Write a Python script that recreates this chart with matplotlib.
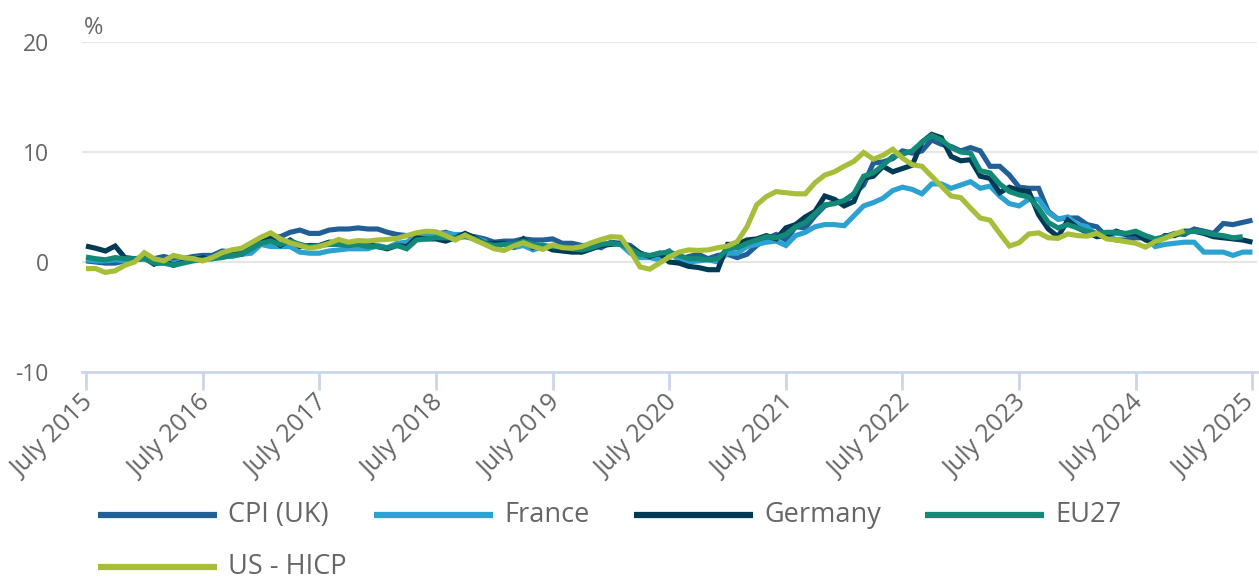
import matplotlib
matplotlib.use("Agg")
import matplotlib.pyplot as plt
from matplotlib.lines import Line2D
import matplotlib.transforms as mtransforms
import numpy as np

plt.rcParams['font.family'] = ['Open Sans', 'DejaVu Sans']

# ---------------- data (annual inflation rate, %, monthly Jul 2015 - Jul 2025) ----------------
tick_labels = ["July 2015", "July 2016", "July 2017", "July 2018", "July 2019", "July 2020",
               "July 2021", "July 2022", "July 2023", "July 2024", "July 2025"]

series_names = ["CPI (UK)", "France", "Germany", "EU27", "US - HICP"]

cpi_uk = [0.1, 0.0, -0.1, -0.1, 0.1, 0.2,
          0.3, 0.3, 0.5, 0.3, 0.3, 0.5, 0.6, 0.6, 1.0, 0.9, 1.2, 1.6,
          1.8, 2.3, 2.3, 2.7, 2.9, 2.6, 2.6, 2.9, 3.0, 3.0, 3.1, 3.0,
          3.0, 2.7, 2.5, 2.4, 2.4, 2.4, 2.5, 2.7, 2.4, 2.4, 2.3, 2.1,
          1.8, 1.9, 1.9, 2.1, 2.0, 2.0, 2.1, 1.7, 1.7, 1.5, 1.5, 1.3,
          1.8, 1.7, 1.5, 0.8, 0.5, 0.6, 1.0, 0.2, 0.5, 0.7, 0.3, 0.6,
          0.7, 0.4, 0.7, 1.5, 2.1, 2.5, 2.0, 3.2, 3.1, 4.2, 5.1, 5.4,
          5.5, 6.2, 7.0, 9.0, 9.1, 9.4, 10.1, 9.9, 10.1, 11.1, 10.7, 10.5,
          10.1, 10.4, 10.1, 8.7, 8.7, 7.9, 6.8, 6.7, 6.7, 4.6, 3.9, 4.0,
          4.0, 3.4, 3.2, 2.3, 2.0, 2.0, 2.2, 2.2, 1.7, 2.3, 2.6, 2.5,
          3.0, 2.8, 2.6, 3.5, 3.4, 3.6, 3.8]

france = [0.2, 0.1, 0.1, 0.2, 0.1, 0.3,
          0.3, -0.1, -0.1, -0.1, 0.1, 0.3, 0.4, 0.4, 0.5, 0.5, 0.7, 0.8,
          1.6, 1.4, 1.4, 1.4, 0.9, 0.8, 0.8, 1.0, 1.1, 1.2, 1.2, 1.2,
          1.5, 1.3, 1.7, 1.8, 2.3, 2.3, 2.6, 2.6, 2.5, 2.5, 2.2, 1.9,
          1.4, 1.6, 1.3, 1.5, 1.1, 1.4, 1.3, 1.3, 1.1, 0.9, 1.2, 1.6,
          1.7, 1.6, 0.8, 0.4, 0.4, 0.2, 0.9, 0.2, 0.0, 0.1, 0.2, 0.0,
          0.8, 0.8, 1.4, 1.6, 1.8, 1.9, 1.5, 2.4, 2.7, 3.2, 3.4, 3.4,
          3.3, 4.2, 5.1, 5.4, 5.8, 6.5, 6.8, 6.6, 6.2, 7.1, 7.1, 6.7,
          7.0, 7.3, 6.7, 6.9, 6.0, 5.3, 5.1, 5.7, 5.7, 4.5, 3.9, 4.1,
          3.4, 3.2, 2.4, 2.4, 2.6, 2.5, 2.7, 2.2, 1.4, 1.6, 1.7, 1.8,
          1.8, 0.9, 0.9, 0.9, 0.6, 0.9, 0.9]

germany = [1.45, 1.25, 1.0, 1.45, 0.4, 0.3,
           0.4, -0.2, 0.1, -0.3, 0.0, 0.2, 0.4, 0.3, 0.5, 0.7, 0.7, 1.7,
           1.9, 2.2, 1.5, 2.0, 1.4, 1.5, 1.5, 1.8, 1.8, 1.5, 1.8, 1.6,
           1.4, 1.2, 1.5, 1.4, 2.2, 2.1, 2.1, 1.9, 2.2, 2.6, 2.2, 1.7,
           1.7, 1.7, 1.4, 2.1, 1.3, 1.5, 1.1, 1.0, 0.9, 0.9, 1.2, 1.5,
           1.6, 1.7, 1.3, 0.8, 0.5, 0.8, 0.0, -0.1, -0.4, -0.5, -0.7, -0.7,
           1.6, 1.6, 2.0, 2.1, 2.4, 2.1, 3.1, 3.4, 4.1, 4.6, 6.0, 5.7,
           5.1, 5.5, 7.6, 7.8, 8.7, 8.2, 8.5, 8.8, 10.9, 11.6, 11.3, 9.6,
           9.2, 9.3, 7.8, 7.6, 6.3, 6.8, 6.5, 6.4, 4.3, 3.0, 2.3, 3.8,
           3.1, 2.7, 2.3, 2.4, 2.8, 2.5, 2.6, 2.0, 1.8, 2.4, 2.4, 2.8,
           2.8, 2.6, 2.3, 2.2, 2.1, 2.0, 1.8]

eu27 = [0.45, 0.3, 0.2, 0.4, 0.3, 0.3,
        0.3, -0.1, -0.1, -0.3, -0.1, 0.1, 0.2, 0.3, 0.4, 0.6, 0.7, 1.2,
        1.7, 1.9, 1.6, 1.9, 1.6, 1.4, 1.5, 1.6, 1.6, 1.5, 1.6, 1.4,
        1.4, 1.3, 1.5, 1.2, 2.0, 2.1, 2.2, 2.2, 2.2, 2.3, 2.1, 1.7,
        1.5, 1.6, 1.6, 1.9, 1.6, 1.5, 1.4, 1.4, 1.2, 1.1, 1.3, 1.6,
        1.7, 1.6, 1.2, 0.7, 0.6, 0.8, 0.9, 0.6, 0.3, 0.3, 0.2, 0.3,
        1.2, 1.3, 1.7, 2.0, 2.3, 2.2, 2.5, 3.2, 3.6, 4.4, 5.2, 5.3,
        5.6, 6.2, 7.8, 8.1, 8.8, 9.6, 9.8, 10.1, 10.9, 11.5, 11.1, 10.4,
        10.0, 9.9, 8.3, 8.1, 7.1, 6.4, 6.1, 5.9, 4.9, 3.6, 3.1, 3.4,
        3.1, 2.8, 2.6, 2.7, 2.7, 2.6, 2.8, 2.4, 2.1, 2.3, 2.5, 2.7,
        2.8, 2.7, 2.5, 2.4, 2.2, 2.3]

us_hicp = [-0.6, -0.6, -0.95, -0.8, -0.3, 0.0,
           0.85, 0.3, 0.1, 0.6, 0.4, 0.3, 0.1, 0.4, 0.85, 1.1, 1.25, 1.75,
           2.25, 2.65, 2.1, 1.75, 1.5, 1.25, 1.4, 1.7, 2.05, 1.8, 1.95, 1.9,
           2.0, 2.05, 2.15, 2.4, 2.65, 2.8, 2.75, 2.4, 2.0, 2.45, 2.0, 1.6,
           1.2, 1.05, 1.45, 1.75, 1.4, 1.15, 1.55, 1.3, 1.25, 1.4, 1.75, 2.05,
           2.3, 2.25, 1.0, -0.45, -0.65, -0.1, 0.45, 0.9, 1.1, 1.05, 1.1, 1.3,
           1.45, 1.85, 3.2, 5.2, 5.95, 6.4, 6.3, 6.2, 6.2, 7.2, 7.9, 8.2,
           8.7, 9.15, 9.95, 9.35, 9.7, 10.25, 9.45, 8.85, 8.7, 7.8, 6.9, 6.0,
           5.85, 4.9, 4.0, 3.8, 2.6, 1.45, 1.75, 2.55, 2.65, 2.2, 2.15, 2.55,
           2.4, 2.35, 2.6, 2.1, 2.0, 1.85, 1.7, 1.35, 1.85, 2.15, 2.55, 2.85]

colors = ["#225f97", "#2ba2d0", "#013a55", "#128a77", "#a6be3a"]
all_series = [cpi_uk, france, germany, eu27, us_hicp]

# ---------------- figure ----------------
W, H = 1259, 581
fig = plt.figure(figsize=(W / 100, H / 100), dpi=100)
left_px, right_px, top_px, bottom_px = 82, 1257, 42, 372
ax = fig.add_axes([left_px / W, 1 - bottom_px / H, (right_px - left_px) / W, (bottom_px - top_px) / H])

for vals, col in zip(all_series, colors):
    ax.plot(np.arange(len(vals)), vals, color=col, lw=3.7, solid_joinstyle='miter',
            solid_capstyle='butt', zorder=3)

ax.set_xlim(-0.41, 120.47)
ax.set_ylim(-10, 20)

for s in ['top', 'right', 'left']:
    ax.spines[s].set_visible(False)
ax.spines['bottom'].set_color('#ccd6eb')
ax.spines['bottom'].set_linewidth(2.0)

ax.set_yticks([-10, 0, 10, 20])
ax.set_yticklabels(["-10", "0", "10", "20"])
ax.tick_params(axis='y', length=0, pad=24, labelsize=16.5, labelcolor='#666666')
for y in [0, 10, 20]:
    ax.axhline(y, color='#e6e6e6', lw=1.6, zorder=1)

xt = np.arange(0, 121, 12)
ax.set_xticks(xt)
ax.tick_params(axis='x', length=13, width=2.0, color='#ccd6eb', labelbottom=False)
for i, (pos, txt) in enumerate(zip(xt, tick_labels)):
    dx = 0.045 if i < len(xt) - 1 else -0.01
    lab_offset = mtransforms.ScaledTranslation(dx, -0.27, fig.dpi_scale_trans)
    ax.text(pos, 0, txt, transform=ax.get_xaxis_transform() + lab_offset,
            rotation=45, rotation_mode='anchor', ha='right', va='center',
            fontsize=18, color='#666666', clip_on=False)

fig.text(84 / W, 1 - 28 / H, "%", fontsize=17, color='#666666', ha='left', va='center')

# ---------------- legend ----------------
leg_items = [(98, 515), (374, 515), (634, 515), (925, 515), (98, 567)]
for name, col, (lx, ly) in zip(series_names, colors, leg_items):
    fig.add_artist(Line2D([lx / W, (lx + 119) / W], [1 - ly / H, 1 - ly / H],
                          transform=fig.transFigure, color=col, lw=4.5, solid_capstyle='butt'))
    fig.text((lx + 130) / W, 1 - ly / H, name, fontsize=19.5, color='#666666',
             ha='left', va='center')

fig.savefig("out.png", dpi=100, facecolor='white')
